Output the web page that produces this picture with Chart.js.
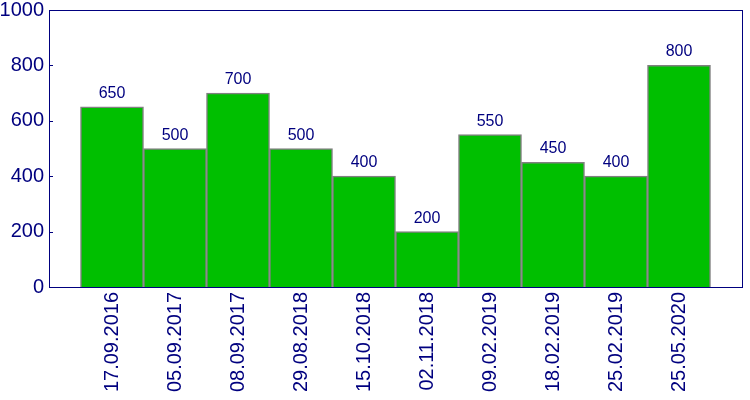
<!DOCTYPE html>
<html>
<head>
<meta charset="utf-8">
<script src="https://cdn.jsdelivr.net/npm/chart.js@4/dist/chart.umd.min.js"></script>
<style>
html,body{margin:0;padding:0;background:#fff;}
#wrap{width:750px;height:400px;position:relative;}
</style>
</head>
<body>
<div id="wrap"><canvas id="c" width="750" height="400"></canvas></div>
<script>
const categories = ["17.09.2016","05.09.2017","08.09.2017","29.08.2018","15.10.2018","02.11.2018","09.02.2019","18.02.2019","25.02.2019","25.05.2020"];
const values = [650,500,700,500,400,200,550,450,400,800];
const yTicks = [0,200,400,600,800,1000];

const NAVY = '#00007f';
const FONT = '"Liberation Sans", Arial, sans-serif';

const points = categories.map((c, i) => ({x: i, y: values[i]}));

const frameAndLabels = {
  id: 'frameAndLabels',
  afterDatasetsDraw(chart) {
    const ctx = chart.ctx;
    const a = chart.chartArea;
    const ys = chart.scales.y;
    ctx.save();
    ctx.strokeStyle = NAVY;
    ctx.lineWidth = 1;
    ctx.strokeRect(Math.round(a.left) + 0.5, Math.round(a.top) + 0.5, Math.round(a.right - a.left), Math.round(a.bottom - a.top));
    yTicks.forEach(v => {
      const py = Math.round(ys.getPixelForValue(v)) + 0.5;
      ctx.beginPath();
      ctx.moveTo(a.left, py);
      ctx.lineTo(a.left + 4, py);
      ctx.stroke();
    });
    ctx.fillStyle = NAVY;
    ctx.font = '16px ' + FONT;
    ctx.textAlign = 'center';
    ctx.textBaseline = 'alphabetic';
    const meta = chart.getDatasetMeta(0);
    meta.data.forEach((bar, i) => {
      ctx.fillText(String(values[i]), bar.x, bar.y - 9);
    });
    ctx.restore();
  }
};

new Chart(document.getElementById('c'), {
  type: 'bar',
  data: {
    datasets: [{
      data: points,
      backgroundColor: '#00bf00',
      borderColor: '#808080',
      borderWidth: 1.5,
      barPercentage: 1,
      categoryPercentage: 1
    }]
  },
  options: {
    responsive: false,
    animation: false,
    layout: {padding: {top: 0, right: 8, left: 0, bottom: 0}},
    plugins: {legend: {display: false}, tooltip: {enabled: false}},
    scales: {
      x: {
        type: 'linear',
        min: -1,
        max: 10,
        offset: false,
        grid: {display: false, drawTicks: false, offset: false},
        border: {display: false},
        afterBuildTicks(scale) {
          scale.ticks = categories.map((c, i) => ({value: i}));
        },
        afterFit(scale) { scale.height = 113; scale.paddingLeft = 0; scale.paddingRight = 0; },
        ticks: {
          autoSkip: false,
          minRotation: 90,
          maxRotation: 90,
          padding: 5,
          color: NAVY,
          font: {family: FONT, size: 20},
          callback: (v) => categories[v] !== undefined ? categories[v] : ''
        }
      },
      y: {
        min: 0,
        max: 1000,
        grid: {display: false, drawTicks: false},
        border: {display: false},
        afterBuildTicks(scale) {
          scale.ticks = yTicks.map(v => ({value: v}));
        },
        afterFit(scale) { scale.width = 49; scale.paddingTop = 10; scale.paddingBottom = 0; },
        ticks: {
          padding: 5,
          color: NAVY,
          font: {family: FONT, size: 20},
          callback: (v) => String(v)
        }
      }
    }
  },
  plugins: [frameAndLabels]
});
</script>
</body>
</html>
